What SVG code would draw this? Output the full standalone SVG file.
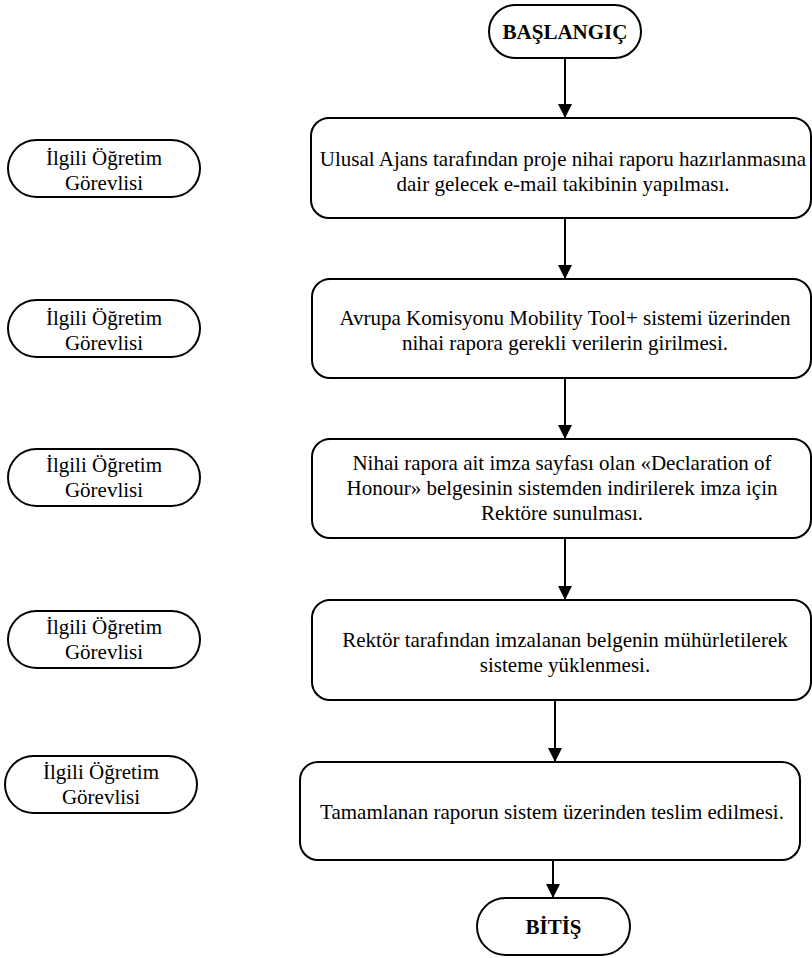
<svg xmlns="http://www.w3.org/2000/svg" width="812" height="958" viewBox="0 0 812 958">
<defs>
<style>
.box{fill:#fff;stroke:#000;stroke-width:2}
.t{font-family:"Liberation Serif","Times New Roman",serif;font-size:21px;fill:#000;text-anchor:middle}
.tb{font-family:"Liberation Serif","Times New Roman",serif;font-size:21px;font-weight:bold;fill:#000;text-anchor:middle}
.c{stroke:#000;stroke-width:2;fill:none;marker-end:url(#ah)}
</style>
<marker id="ah" markerUnits="userSpaceOnUse" markerWidth="14" markerHeight="18" refX="14" refY="7" orient="auto" viewBox="0 0 14 14">
<path d="M0,0 L14,7 L0,14 Z" fill="#000"/>
</marker>
</defs>
<rect width="812" height="958" fill="#fff"/>
<g id="connectors">
<line class="c" x1="565" y1="58" x2="565" y2="118"/>
<line class="c" x1="565" y1="218" x2="565" y2="279"/>
<line class="c" x1="565" y1="378" x2="565" y2="439"/>
<line class="c" x1="565" y1="538" x2="565" y2="600"/>
<line class="c" x1="555" y1="700" x2="555" y2="762"/>
<line class="c" x1="553" y1="860" x2="553" y2="898"/>
</g>
<g id="start">
<rect class="box" x="489" y="5" width="152" height="53" rx="26.5"/>
<text class="tb" x="565" y="39">BAŞLANGIÇ</text>
</g>
<g id="step1">
<rect class="box" x="311" y="118" width="500" height="100" rx="18"/>
<text class="t" x="563" y="166">Ulusal Ajans tarafından proje nihai raporu hazırlanmasına</text>
<text class="t" x="563" y="191">dair gelecek e-mail takibinin yapılması.</text>
</g>
<g id="step2">
<rect class="box" x="312" y="279" width="499" height="99" rx="18"/>
<text class="t" x="565" y="325">Avrupa Komisyonu Mobility Tool+ sistemi üzerinden</text>
<text class="t" x="565" y="350">nihai rapora gerekli verilerin girilmesi.</text>
</g>
<g id="step3">
<rect class="box" x="312" y="439" width="499" height="99" rx="18"/>
<text class="t" x="562" y="470">Nihai rapora ait imza sayfası olan «Declaration of</text>
<text class="t" x="562" y="495">Honour» belgesinin sistemden indirilerek imza için</text>
<text class="t" x="562" y="520">Rektöre sunulması.</text>
</g>
<g id="step4">
<rect class="box" x="312" y="600" width="499" height="100" rx="18"/>
<text class="t" x="565" y="647">Rektör tarafından imzalanan belgenin mühürletilerek</text>
<text class="t" x="565" y="672">sisteme yüklenmesi.</text>
</g>
<g id="step5">
<rect class="box" x="300" y="762" width="500" height="98" rx="18"/>
<text class="t" x="552" y="819">Tamamlanan raporun sistem üzerinden teslim edilmesi.</text>
</g>
<g id="end">
<rect class="box" x="477" y="898" width="153" height="57" rx="28.5"/>
<text class="tb" x="553.5" y="934">BİTİŞ</text>
</g>
<g id="actor1">
<rect class="box" x="8" y="140" width="192" height="57" rx="28.5"/>
<text class="t" x="104" y="165">İlgili Öğretim</text>
<text class="t" x="104" y="190">Görevlisi</text>
</g>
<g id="actor2">
<rect class="box" x="8" y="300" width="192" height="57" rx="28.5"/>
<text class="t" x="104" y="325">İlgili Öğretim</text>
<text class="t" x="104" y="350">Görevlisi</text>
</g>
<g id="actor3">
<rect class="box" x="8" y="449" width="192" height="57" rx="28.5"/>
<text class="t" x="104" y="472">İlgili Öğretim</text>
<text class="t" x="104" y="497">Görevlisi</text>
</g>
<g id="actor4">
<rect class="box" x="8" y="611" width="192" height="57" rx="28.5"/>
<text class="t" x="104" y="634">İlgili Öğretim</text>
<text class="t" x="104" y="659">Görevlisi</text>
</g>
<g id="actor5">
<rect class="box" x="5" y="756" width="192" height="57" rx="28.5"/>
<text class="t" x="101" y="779">İlgili Öğretim</text>
<text class="t" x="101" y="804">Görevlisi</text>
</g>
</svg>
